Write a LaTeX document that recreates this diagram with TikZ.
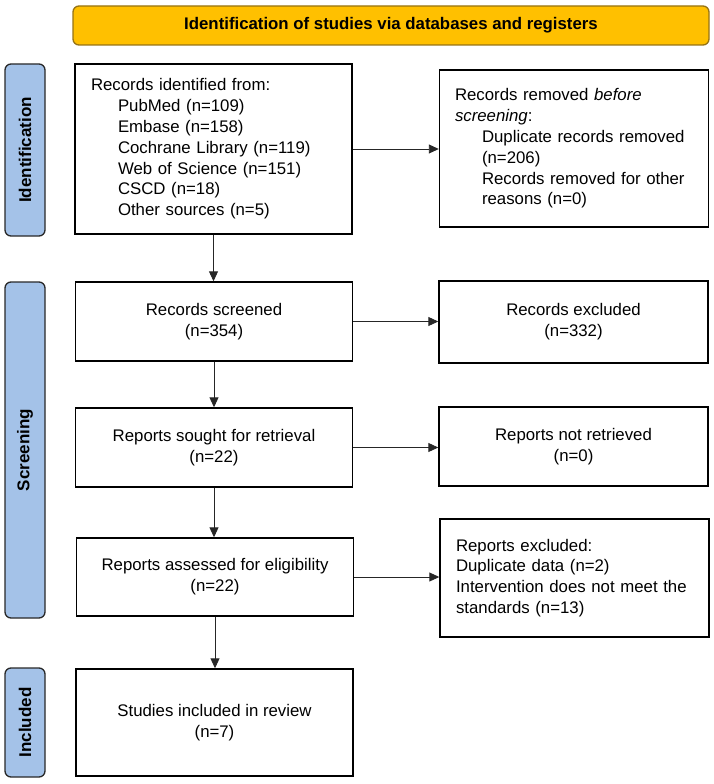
\documentclass[tikz,border=0pt]{standalone}
\usepackage{fontspec}
\setmainfont{Liberation Sans}
\usetikzlibrary{arrows.meta}
\definecolor{prismagold}{RGB}{255,192,0}
\definecolor{prismagoldline}{RGB}{150,115,20}
\definecolor{prismablue}{RGB}{164,194,232}
\definecolor{prismaline}{RGB}{40,40,40}

\tikzset{
  box/.style={draw=black,line width=1.4pt,inner sep=0pt,minimum height=#1,
    font=\fontsize{16.8}{20.8}\selectfont},
  lbox/.style={box=#1,minimum width=277pt},
  rbox/.style={box=#1,minimum width=269pt},
  sidebar/.style={draw=prismaline,fill=prismablue,line width=1.3pt,rounded corners=6pt,
    rotate=90,minimum width=#1,minimum height=40pt,inner sep=0pt,
    font=\bfseries\fontsize{17}{19}\selectfont},
  flow/.style={draw=black!85,line width=0.9pt,-{Triangle[length=10pt,width=9pt]}}
}

\begin{document}
\begin{tikzpicture}[x=1pt,y=-1pt]
  \useasboundingbox (0,0) rectangle (714,784);
  \node[draw=prismagoldline,fill=prismagold,line width=1.3pt,rounded corners=6pt,
    minimum width=636pt,minimum height=39pt,font=\bfseries\fontsize{16.8}{20}\selectfont]
    (banner) at (391,25.5) {Identification of studies via databases and registers};
  % phases
  \node[sidebar=172pt] (idbar) at (25,150) {Identification};
  \node[sidebar=336pt] (scrbar) at (25,450) {Screening};
  \node[sidebar=109pt] (incbar) at (25,722.5) {Included};
  % left column
  \node[lbox=170pt,text width=245pt,align=left] (rid) at (213.5,149)
    {Records identified from:\\
     \hspace*{27pt}PubMed (n=109)\\
     \hspace*{27pt}Embase (n=158)\\
     \hspace*{27pt}Cochrane Library (n=119)\\
     \hspace*{27pt}Web of Science (n=151)\\
     \hspace*{27pt}CSCD (n=18)\\
     \hspace*{27pt}Other sources (n=5)};
  \node[lbox=79pt,align=center] (rscr) at (214,321.5) {Records screened\\(n=354)};
  \node[lbox=79pt,align=center] (rsought) at (214,447.5) {Reports sought for retrieval\\(n=22)};
  \node[lbox=78pt,align=center] (rassess) at (215,577) {Reports assessed for eligibility\\(n=22)};
  \node[lbox=107pt,align=center] (stud) at (214.5,722.5) {Studies included in review\\(n=7)};
  % right column
  \node[rbox=157pt,text width=238pt,align=left] (rrem) at (574,148.5)
    {Records removed \textit{before}\\
     \textit{screening}:\\
     \hspace*{27pt}Duplicate records removed\\
     \hspace*{27pt}(n=206)\\
     \hspace*{27pt}Records removed for other\\
     \hspace*{27pt}reasons (n=0)};
  \node[rbox=82pt,align=center] (rexc) at (573.5,322) {Records excluded\\(n=332)};
  \node[rbox=79pt,align=center] (rnot) at (573.5,446.5) {Reports not retrieved\\(n=0)};
  \node[rbox=118pt,text width=237pt,align=left] (rexcl) at (574.5,578)
    {Reports excluded:\\
     Duplicate data (n=2)\\
     Intervention does not meet the\\
     standards (n=13)};
  % arrows
  \draw[flow] (rid.east) -- (rid.east -| rrem.west);
  \draw[flow] (rscr.east) -- (rscr.east -| rexc.west);
  \draw[flow] (rsought.east) -- (rsought.east -| rnot.west);
  \draw[flow] (rassess.east) -- (rassess.east -| rexcl.west);
  \draw[flow] (rid.south) -- (rid.south |- rscr.north);
  \draw[flow] (rscr.south) -- (rscr.south |- rsought.north);
  \draw[flow] (rsought.south) -- (rsought.south |- rassess.north);
  \draw[flow] (rassess.south) -- (rassess.south |- stud.north);
\end{tikzpicture}
\end{document}
